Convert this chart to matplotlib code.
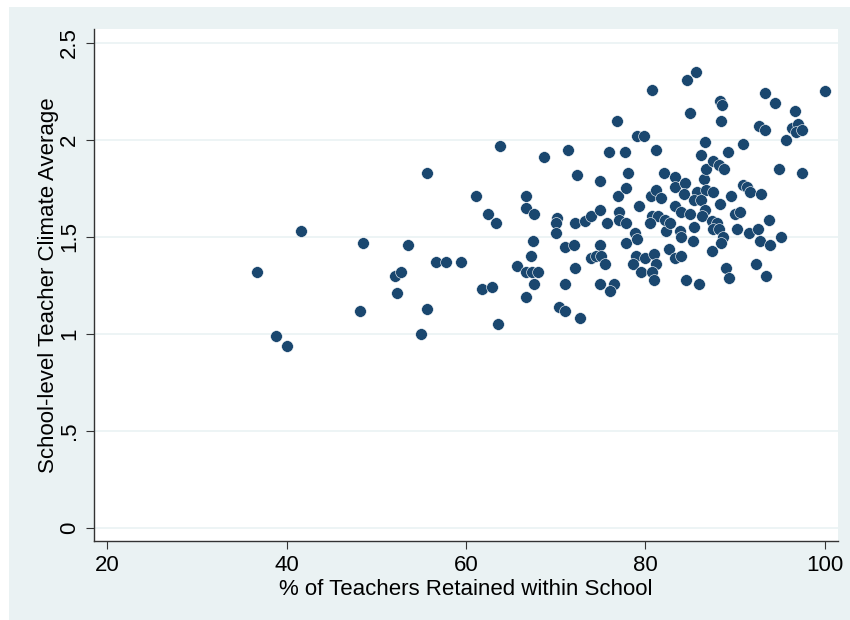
import matplotlib.pyplot as plt
from matplotlib.patches import Rectangle

# % of teachers retained (x) and school-level climate average (y)
retained = [
    36.7, 38.8, 40.0, 41.6, 48.5, 48.2, 53.5, 52.1, 52.8, 52.3,
    56.6, 57.8, 59.4, 55.6, 55.0, 55.6, 61.1, 61.8, 62.9, 63.8,
    63.6, 62.5, 63.3, 68.7, 71.4, 76.0, 77.7, 79.1, 79.9, 81.2,
    76.9, 72.4, 75.0, 78.1, 82.1, 66.7, 66.7, 67.6, 70.1, 70.0,
    70.0, 72.2, 73.3, 73.9, 75.0, 75.7, 77.1, 77.1, 77.9, 77.0,
    77.8, 79.3, 80.6, 81.2, 81.8, 80.8, 81.4, 80.5, 82.3, 82.7,
    67.5, 67.2, 65.7, 66.7, 67.4, 68.0, 67.6, 66.7, 71.0, 72.0,
    72.2, 71.0, 70.4, 71.0, 72.7, 75.0, 73.9, 74.5, 75.1, 75.5,
    75.0, 76.5, 76.1, 77.8, 78.8, 79.1, 79.0, 78.6, 80.0, 79.5,
    81.0, 81.2, 80.7, 81.0,
    80.7, 84.6, 85.7, 85.0, 88.3, 88.6, 88.4, 93.4, 94.5, 96.7,
    100.0, 92.7, 93.4, 96.4, 97.0, 96.8, 97.5, 95.7, 86.7, 86.2,
    89.2, 90.9, 94.9, 97.5, 83.3, 83.3, 84.4, 86.5, 86.8, 87.5,
    88.2, 88.8, 90.9, 91.3, 91.7, 92.9, 84.3, 85.8, 86.8, 87.5,
    88.3, 89.6, 85.4, 86.2, 83.3, 84.0, 85.0, 86.7, 86.3, 87.4,
    88.0, 87.6, 88.2, 90.0, 90.6, 82.2, 82.8, 83.9, 84.0, 85.4,
    90.2, 85.3, 88.7, 88.4, 87.4, 83.3, 84.0, 91.6, 92.6, 92.8,
    93.9, 95.1, 93.8, 84.5, 86.0, 89.0, 89.3, 92.3, 93.5,
]
climate = [
    1.32, 0.99, 0.94, 1.53, 1.47, 1.12, 1.46, 1.30, 1.32, 1.21,
    1.37, 1.37, 1.37, 1.13, 1.00, 1.83, 1.71, 1.23, 1.24, 1.97,
    1.05, 1.62, 1.57, 1.91, 1.95, 1.94, 1.94, 2.02, 2.02, 1.95,
    2.10, 1.82, 1.79, 1.83, 1.83, 1.71, 1.65, 1.62, 1.60, 1.57,
    1.52, 1.57, 1.58, 1.61, 1.64, 1.57, 1.63, 1.59, 1.57, 1.71,
    1.75, 1.66, 1.71, 1.74, 1.70, 1.61, 1.61, 1.57, 1.53, 1.44,
    1.48, 1.40, 1.35, 1.32, 1.32, 1.32, 1.26, 1.19, 1.45, 1.46,
    1.34, 1.26, 1.14, 1.12, 1.08, 1.46, 1.39, 1.40, 1.40, 1.36,
    1.26, 1.26, 1.22, 1.47, 1.52, 1.49, 1.40, 1.36, 1.39, 1.32,
    1.41, 1.36, 1.32, 1.28,
    2.26, 2.31, 2.35, 2.14, 2.20, 2.18, 2.10, 2.24, 2.19, 2.15,
    2.25, 2.07, 2.05, 2.06, 2.08, 2.04, 2.05, 2.00, 1.99, 1.92,
    1.94, 1.98, 1.85, 1.83, 1.81, 1.76, 1.78, 1.80, 1.85, 1.89,
    1.87, 1.85, 1.77, 1.76, 1.73, 1.72, 1.72, 1.73, 1.74, 1.73,
    1.67, 1.71, 1.69, 1.69, 1.66, 1.63, 1.62, 1.64, 1.61, 1.58,
    1.57, 1.54, 1.54, 1.62, 1.63, 1.59, 1.57, 1.53, 1.50, 1.55,
    1.54, 1.48, 1.50, 1.47, 1.43, 1.39, 1.40, 1.52, 1.54, 1.48,
    1.46, 1.50, 1.59, 1.28, 1.26, 1.34, 1.29, 1.36, 1.30,
]

x_ticks = [20, 40, 60, 80, 100]
y_ticks = [0, 0.5, 1, 1.5, 2, 2.5]
y_tick_labels = ["0", ".5", "1", "1.5", "2", "2.5"]

plt.rcParams['font.family'] = ['Liberation Sans', 'DejaVu Sans']

fig = plt.figure(figsize=(8.5, 6.2), dpi=100, facecolor="white")
# light blue graph region, drawn beneath the axes
fig.patches.append(Rectangle((9 / 850, 0), 1, 613 / 620, transform=fig.transFigure,
                             facecolor="#EAF2F3", edgecolor="none", zorder=-10))

ax = fig.add_axes([94 / 850, 79 / 620, 744 / 850, 512 / 620])
ax.set_zorder(1)
ax.set_facecolor("white")

ax.scatter(retained, climate, s=72, color="#1A476F", edgecolors="white",
           linewidths=0.4, zorder=3)

ax.set_xlim(18.5, 101.5)
ax.set_ylim(-0.067, 2.572)
ax.set_xticks(x_ticks)
ax.set_yticks(y_ticks)
ax.set_yticklabels(y_tick_labels, rotation=90, va="center")

ax.grid(axis="y", color="#EAF2F3", linewidth=1.2)
ax.set_axisbelow(True)

for side in ["top", "right"]:
    ax.spines[side].set_visible(False)
for side in ["left", "bottom"]:
    ax.spines[side].set_color("#333333")
    ax.spines[side].set_linewidth(1.0)

ax.tick_params(direction="out", length=6, width=0.8, color="#333333",
               labelsize=16, pad=4)

ax.set_xlabel("% of Teachers Retained within School", fontsize=16, labelpad=2)
ax.set_ylabel("School-level Teacher Climate Average", fontsize=16, labelpad=0)

fig.savefig("out.png", dpi=100, facecolor=fig.get_facecolor())
